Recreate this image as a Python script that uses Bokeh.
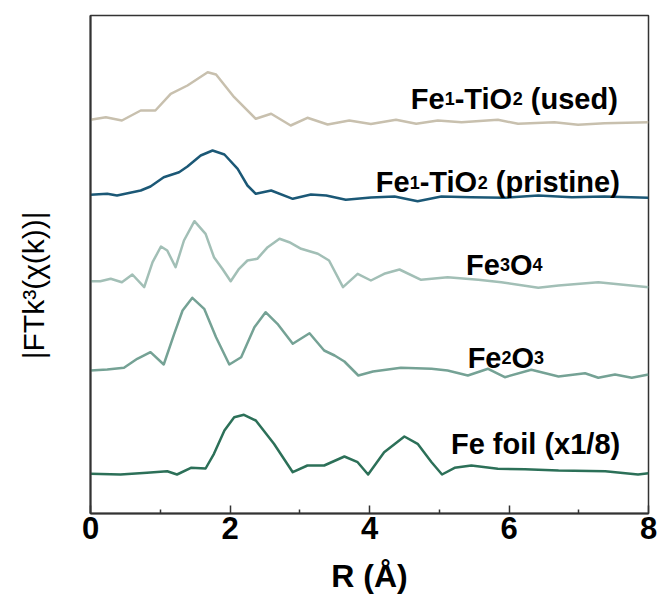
import numpy as np
from bokeh.plotting import figure
from bokeh.models import Range1d, FixedTicker, ColumnDataSource
from bokeh.core.properties import value
from bokeh.embed import file_html
from bokeh.resources import INLINE

# ---------------- data (R in Angstrom, stacked |FT| in a.u.) ----------------
r_used = [0, 0.22, 0.45, 0.72, 0.93, 1.15, 1.39, 1.68, 1.8, 2.06, 2.37, 2.59, 2.87, 3.11,
          3.4, 3.71, 4.02, 4.38, 4.67, 4.98, 5.32, 5.84, 6.13, 6.65, 6.99, 7.37, 8.0]
i_used = [3.937, 3.963, 3.93, 4.03, 4.03, 4.197, 4.28, 4.413, 4.39, 4.163, 3.947, 3.997, 3.88,
          3.957, 3.89, 3.93, 3.895, 3.937, 3.897, 3.93, 3.913, 3.937, 3.897, 3.913, 3.887, 3.903, 3.913]

r_pristine = [0, 0.24, 0.38, 0.72, 0.86, 1.05, 1.27, 1.39, 1.58, 1.75, 1.92, 2.11, 2.25, 2.37,
              2.59, 2.9, 3.16, 3.38, 3.66, 4.02, 4.36, 4.69, 5.03, 5.46, 5.94, 6.42, 6.9, 7.37, 8.0]
i_pristine = [3.187, 3.197, 3.18, 3.23, 3.27, 3.363, 3.413, 3.47, 3.58, 3.63, 3.59, 3.447, 3.28,
              3.197, 3.23, 3.147, 3.19, 3.18, 3.137, 3.16, 3.17, 3.123, 3.17, 3.163, 3.157, 3.18,
              3.163, 3.17, 3.157]

r_fe3o4 = [0, 0.14, 0.29, 0.45, 0.6, 0.77, 0.89, 1.01, 1.1, 1.22, 1.34, 1.49, 1.65, 1.77, 1.89,
           2.01, 2.13, 2.25, 2.39, 2.54, 2.71, 2.85, 3.02, 3.26, 3.42, 3.62, 3.83, 4.02, 4.21,
           4.43, 4.74, 5.12, 5.56, 5.89, 6.42, 6.71, 7.28, 8.0]
i_fe3o4 = [2.323, 2.323, 2.347, 2.313, 2.39, 2.263, 2.513, 2.67, 2.63, 2.463, 2.73, 2.923, 2.797,
           2.563, 2.447, 2.323, 2.447, 2.53, 2.547, 2.663, 2.747, 2.713, 2.647, 2.597, 2.53,
           2.263, 2.397, 2.33, 2.397, 2.44, 2.337, 2.363, 2.337, 2.313, 2.257, 2.28, 2.313, 2.263]

r_fe2o3 = [0, 0.24, 0.48, 0.67, 0.86, 1.05, 1.2, 1.32, 1.46, 1.63, 1.8, 1.99, 2.16, 2.35, 2.51,
           2.68, 2.9, 3.14, 3.35, 3.5, 3.64, 3.84, 4.05, 4.45, 4.89, 5.12, 5.41, 5.7, 5.94, 6.32,
           6.71, 7.09, 7.28, 7.52, 7.76, 8.0]
i_fe2o3 = [1.43, 1.44, 1.457, 1.547, 1.613, 1.49, 1.797, 2.03, 2.157, 2.047, 1.763, 1.49, 1.563,
           1.863, 2.013, 1.897, 1.697, 1.803, 1.63, 1.58, 1.52, 1.38, 1.42, 1.457, 1.447, 1.43,
           1.38, 1.447, 1.363, 1.437, 1.37, 1.403, 1.357, 1.39, 1.357, 1.39]

r_foil = [0, 0.43, 0.81, 1.1, 1.24, 1.44, 1.65, 1.77, 1.92, 2.06, 2.2, 2.37, 2.63, 2.9, 3.11,
          3.35, 3.64, 3.83, 3.98, 4.21, 4.5, 4.69, 4.89, 5.04, 5.22, 5.46, 5.84, 6.23, 6.71,
          7.38, 7.85, 8.0]
i_foil = [0.397, 0.39, 0.407, 0.423, 0.39, 0.457, 0.45, 0.597, 0.83, 0.963, 0.987, 0.93, 0.697,
          0.413, 0.48, 0.48, 0.57, 0.513, 0.39, 0.613, 0.77, 0.697, 0.513, 0.39, 0.457, 0.48,
          0.447, 0.443, 0.43, 0.423, 0.39, 0.403]

x_ticks = [0, 2, 4, 6, 8]
x_minor = [1, 3, 5, 7]

# curve labels: pieces (text, is_subscript)
label_parts = [
    [("Fe", 0), ("1", 1), ("-TiO", 0), ("2", 1), (" (used)", 0)],
    [("Fe", 0), ("1", 1), ("-TiO", 0), ("2", 1), (" (pristine)", 0)],
    [("Fe", 0), ("3", 1), ("O", 0), ("4", 1)],
    [("Fe", 0), ("2", 1), ("O", 0), ("3", 1)],
    [("Fe foil (x1/8)", 0)],
]
label_x = [4.593, 4.091, 5.384, 5.407, 5.168]
label_y = [4.147, 3.315, 2.49, 1.557, 0.697]

colors = ["#c8c0ae", "#1b5876", "#a2bfb6", "#75a295", "#2c7058"]

# ---------------- figure ----------------
p = figure(width=659, height=605, output_backend="svg", toolbar_location=None,
           x_range=Range1d(0, 8), y_range=Range1d(0, 4.98),
           min_border_left=90, min_border_right=11, min_border_top=15, min_border_bottom=92)
p.background_fill_color = "white"
p.border_fill_color = "white"
p.grid.visible = False
p.outline_line_color = "#333333"
p.outline_line_width = 1.5

FONT = "Liberation Sans"

xa = p.xaxis[0]
xa.ticker = FixedTicker(ticks=x_ticks, minor_ticks=x_minor)
xa.major_tick_in = 8
xa.major_tick_out = 0
xa.minor_tick_in = 4
xa.minor_tick_out = 0
xa.major_tick_line_width = 1.5
xa.minor_tick_line_width = 1.5
xa.axis_line_width = 2
xa.axis_line_color = "#333333"
xa.major_tick_line_color = "#333333"
xa.minor_tick_line_color = "#333333"
xa.major_label_text_font = FONT
xa.major_label_text_font_style = "bold"
xa.major_label_text_font_size = "31px"
xa.major_label_text_color = "black"
xa.major_label_standoff = 3
xa.axis_label = "R (Å)"
xa.axis_label_text_font = FONT
xa.axis_label_text_font_style = "bold"
xa.axis_label_text_font_size = "32px"
xa.axis_label_text_color = "black"
xa.axis_label_standoff = 16

ya = p.yaxis[0]
ya.ticker = FixedTicker(ticks=[])
ya.axis_line_width = 2
ya.axis_line_color = "#333333"
ya.major_tick_line_color = None
ya.minor_tick_line_color = None
ya.major_label_standoff = 0
ya.axis_label = "|FTk³(χ(k))|" + "\u00a0" * 5
ya.axis_label_text_font = FONT
ya.axis_label_text_font_style = "normal"
ya.axis_label_text_font_size = "30px"
ya.axis_label_text_color = "black"
ya.axis_label_standoff = 41

for r, i, c in zip([r_used, r_pristine, r_fe3o4, r_fe2o3, r_foil],
                   [i_used, i_pristine, i_fe3o4, i_fe2o3, i_foil], colors):
    p.line(r, i, line_color=c, line_width=2.5, line_join="round")

# Arial/Liberation Sans Bold advance widths (per 1000 em)
W = {' ': 278, '(': 333, ')': 333, '-': 333, '/': 278, 'F': 611, 'T': 611, 'O': 778,
     'e': 556, 'i': 278, 'u': 611, 's': 556, 'd': 611, 'p': 611, 'r': 389, 't': 333,
     'n': 611, 'o': 611, 'l': 278, 'x': 556, 'f': 333}
for dgt in "0123456789":
    W[dgt] = 556

MAIN, SUB = 29, 18

def tw(s, size):
    return sum(W.get(ch, 556) for ch in s) / 1000.0 * size

xs, ys, txt, offs, sizes = [], [], [], [], []
for parts, lx, ly in zip(label_parts, label_x, label_y):
    off = 0.0
    for s, sub in parts:
        size = SUB if sub else MAIN
        st = s.lstrip(" ")
        off += tw(s[:len(s) - len(st)], size)
        xs.append(lx)
        ys.append(ly)
        txt.append(st)
        offs.append(off)
        sizes.append(f"{size}px")
        off += tw(st, size)

src = ColumnDataSource(dict(x=xs, y=ys, text=txt, xo=offs, fs=sizes))
p.text(x="x", y="y", text="text", x_offset="xo", text_font_size="fs", source=src,
       text_font=value(FONT), text_font_style="bold", text_baseline="alphabetic",
       text_align="left", text_color="black")

open("out.html", "w").write(file_html(p, INLINE))
